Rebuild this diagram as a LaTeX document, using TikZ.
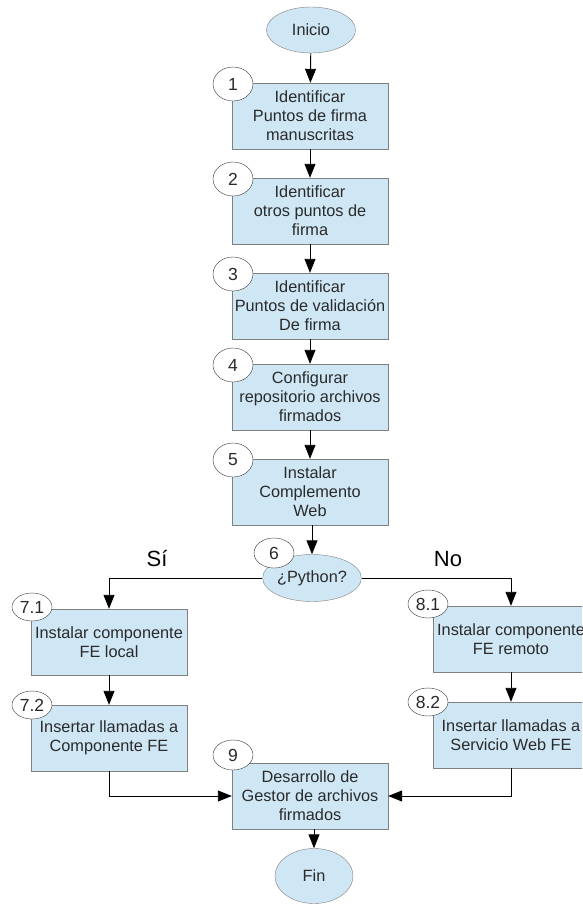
\documentclass[tikz,border=0pt]{standalone}
\usepackage{fontspec}
\setmainfont{Liberation Sans}
\usepackage{tikz}
\usetikzlibrary{shapes.geometric}
\usetikzlibrary{arrows.meta}
\usetikzlibrary{positioning}
\usetikzlibrary{calc}
\definecolor{celeste}{HTML}{CFE7F5}
\definecolor{borde}{HTML}{808080}
\definecolor{texto}{HTML}{2A2A2A}
\tikzstyle{tarea}=[
        rectangle,
        draw=borde,
        fill=celeste,
        text=texto,
        minimum width=156pt,
        minimum height=66pt,
        inner sep=2pt,
        align=center,
        font=\fontsize{16.3}{19}\selectfont
]
\tikzstyle{extremo}=[ellipse,draw=borde,fill=celeste,text=texto,inner sep=0pt,
minimum width=89pt,minimum height=46pt,font=\fontsize{16.3}{19}\selectfont]
\tikzstyle{numero}=[ellipse,draw=black!80,fill=white,text=texto,inner sep=0pt,
minimum width=40pt,minimum height=34pt,font=\fontsize{17.5}{19}\selectfont]
\tikzstyle{rama}=[font=\fontsize{22}{24}\selectfont]
\tikzstyle{flujo}=[-{Triangle[length=14pt,width=11pt]},line width=0.9pt]

\begin{document}
\begin{tikzpicture}[x=1pt,y=1pt]
\clip (0,0) rectangle (582,-905);
\fill[white] (0,0) rectangle (582,-905);
\node[extremo] (inicio) at (311,-30) {Inicio};
\node[tarea] (t1) at (310,-116) {Identificar\\Puntos de firma\\manuscritas};
\node[tarea] (t2) at (310,-211) {Identificar\\otros puntos de\\firma};
\node[tarea] (t3) at (310,-306) {Identificar\\Puntos de validación\\De firma};
\node[tarea] (t4) at (310,-397) {Configurar\\repositorio archivos\\firmados};
\node[tarea] (t5) at (310,-492) {Instalar\\Complemento\\Web};
\node[extremo,minimum width=88pt,minimum height=47pt] (python) at (312,-578) {¿Python?};
\node[tarea] (t71) at (109,-642) {Instalar componente\\FE local};
\node[tarea] (t72) at (109,-738) {Insertar llamadas a\\Componente FE};
\node[tarea] (t81) at (511,-639) {Instalar componente\\FE remoto};
\node[tarea] (t82) at (511,-735) {Insertar llamadas a\\Servicio Web FE};
\node[tarea] (t9) at (310,-796) {Desarrollo de\\Gestor de archivos\\firmados};
\node[extremo,minimum width=78pt,minimum height=55pt] (fin) at (314,-876) {Fin};
\node[rama] (si) at (157,-559) {Sí};
\node[rama] (no) at (448,-559) {No};
%numeros de paso
\node[numero] (n1) at (233,-84) {1};
\node[numero] (n2) at (233,-179) {2};
\node[numero] (n3) at (233,-274) {3};
\node[numero] (n4) at (233,-365) {4};
\node[numero] (n5) at (233,-460) {5};
\node[numero,minimum height=30pt] (n6) at (274,-553) {6};
\node[numero,minimum height=28pt] (n71) at (32,-607) {7.1};
\node[numero,minimum height=28pt] (n72) at (32,-705) {7.2};
\node[numero,minimum height=28pt] (n81) at (428,-604) {8.1};
\node[numero,minimum height=28pt] (n82) at (428,-702) {8.2};
\node[numero,minimum height=30pt] (n9) at (233,-755) {9};
%flechas
\draw[flujo] (inicio) -- (t1);
\draw[flujo] (t1) -- (t2);
\draw[flujo] (t2) -- (t3);
\draw[flujo] (t3) -- (t4);
\draw[flujo] (t4) -- (t5);
\draw[flujo] (t5.south -| python.north) -- (python);
\draw[flujo] (python.west) -| (t71);
\draw[flujo] (python.east) -| (t81);
\draw[flujo] (t71) -- (t72);
\draw[flujo] (t81) -- (t82);
\draw[flujo] (t72) |- (t9);
\draw[flujo] (t82) |- (t9);
\draw[flujo] (fin |- t9.south) -- (fin);
\end{tikzpicture}
\end{document}
